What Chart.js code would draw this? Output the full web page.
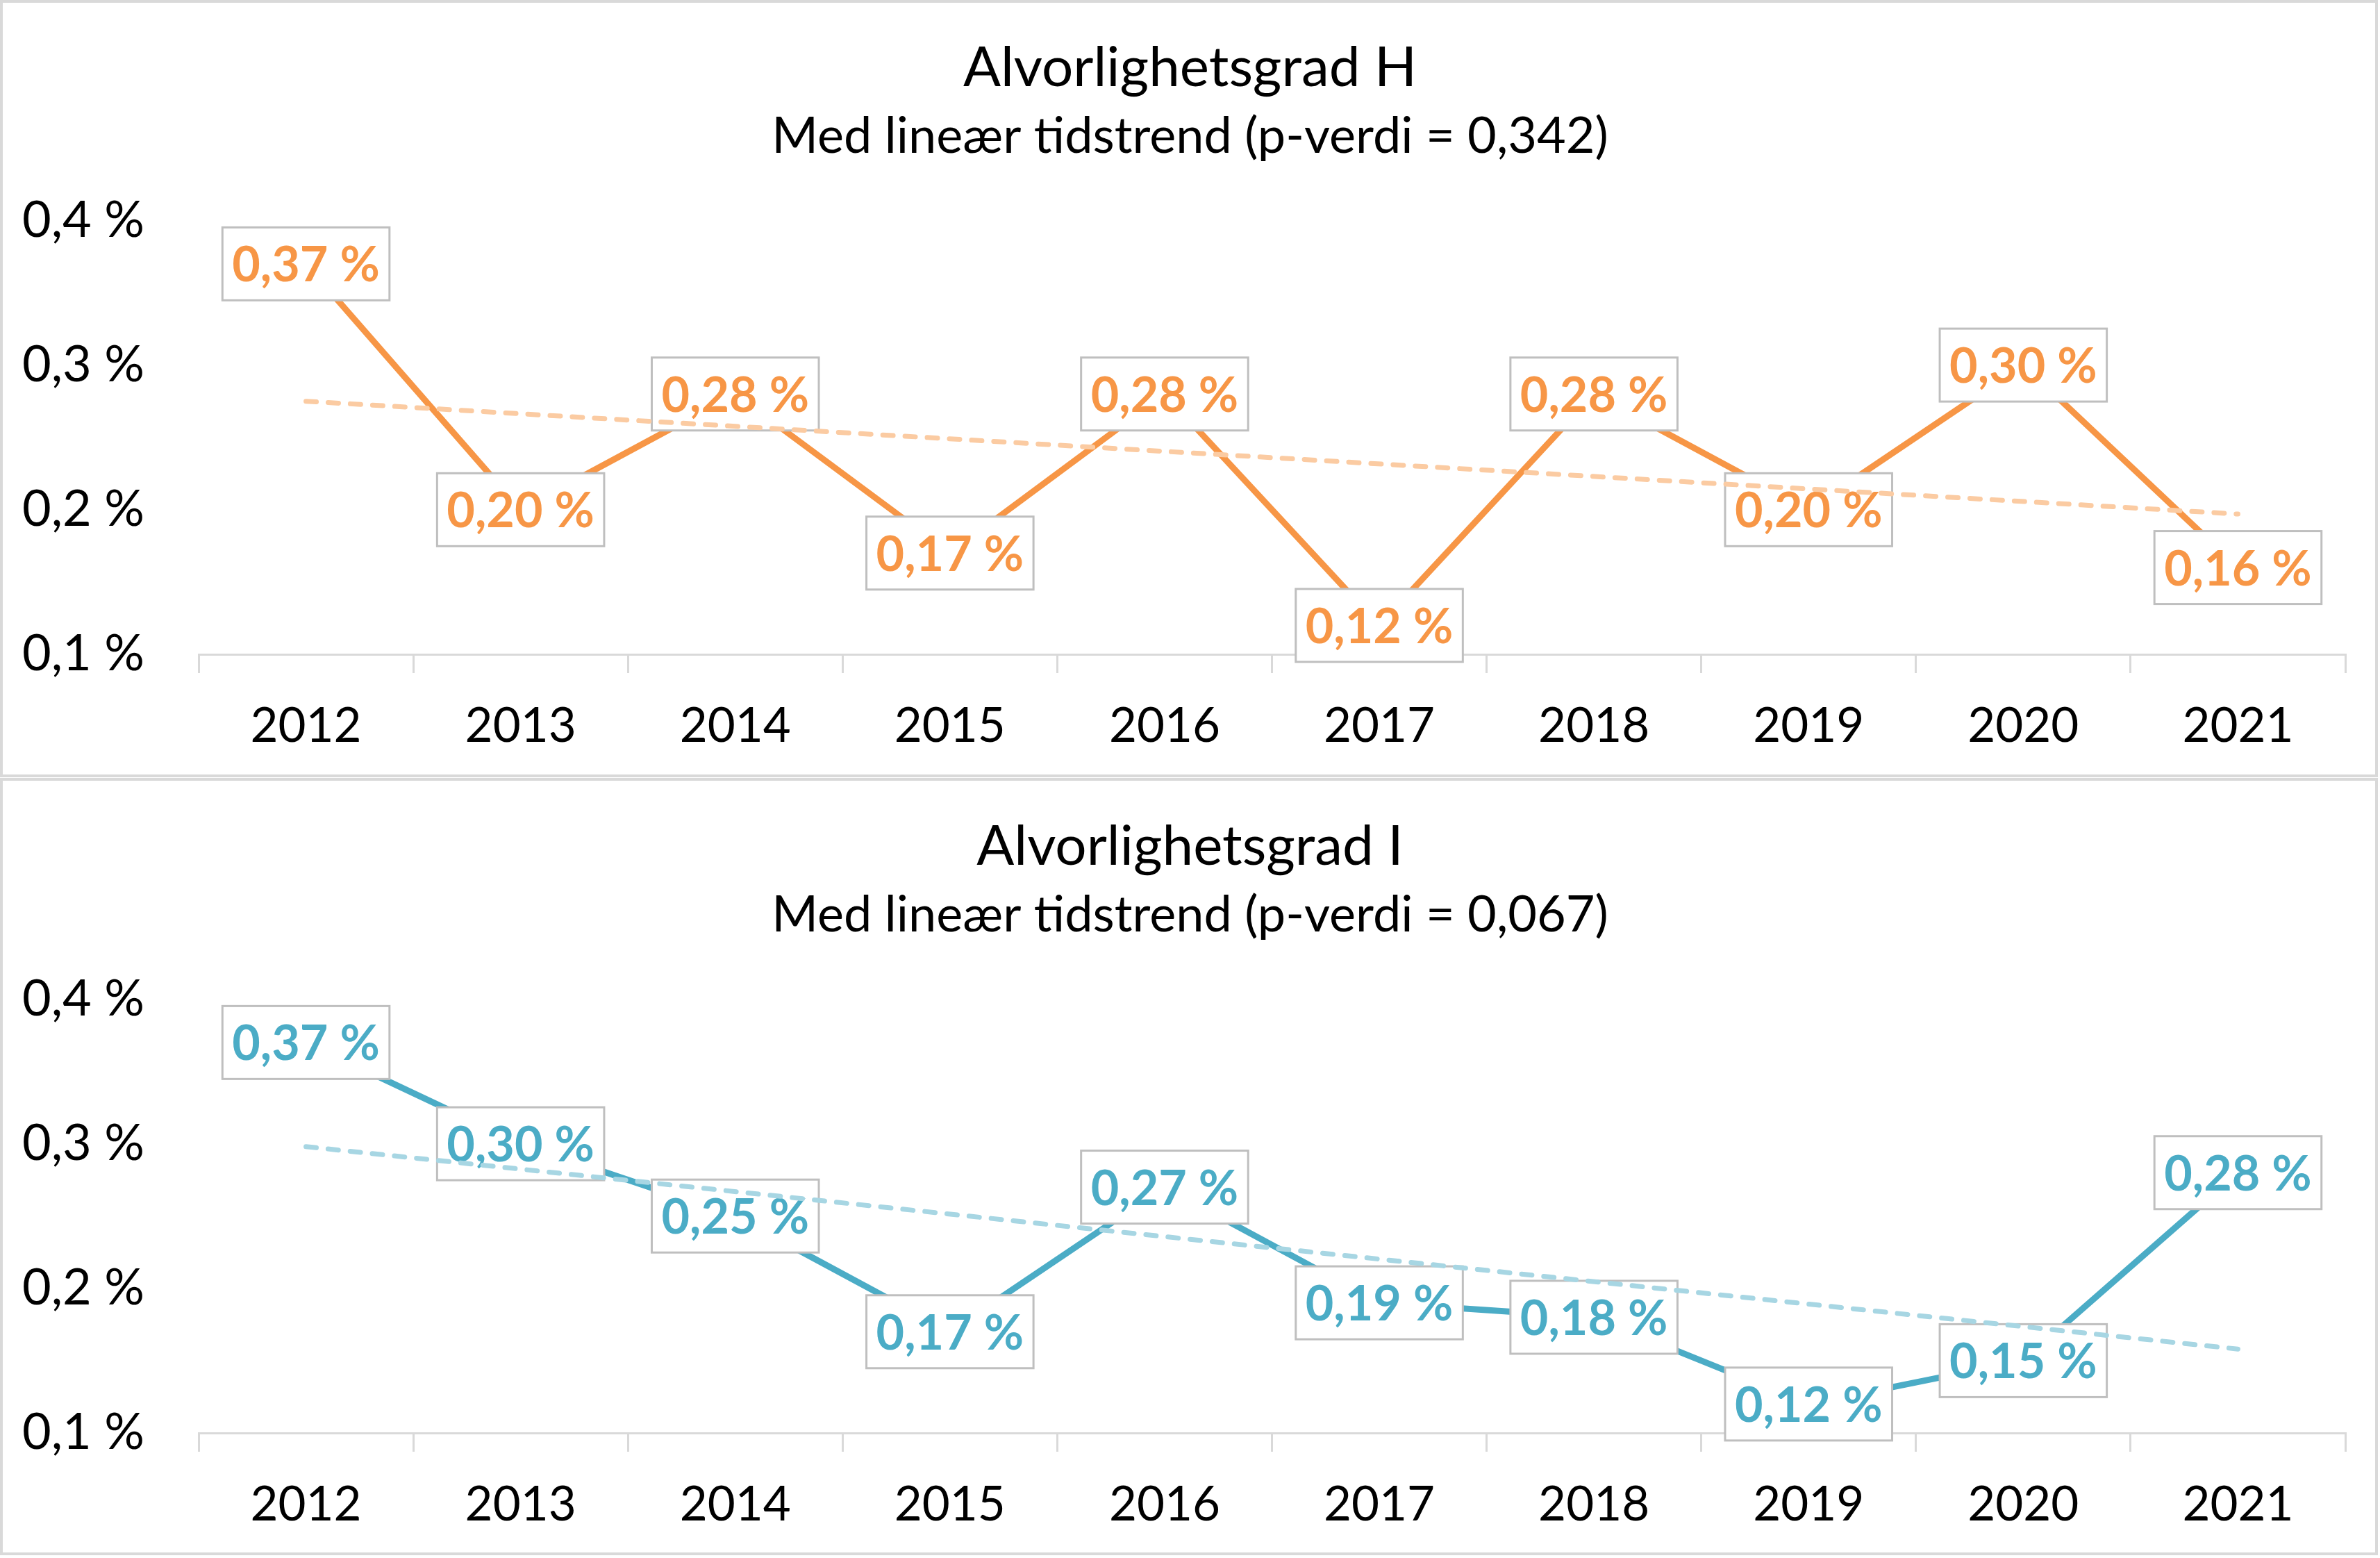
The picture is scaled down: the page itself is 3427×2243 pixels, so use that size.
<!DOCTYPE html>
<html>
<head>
<meta charset="utf-8">
<script src="https://cdn.jsdelivr.net/npm/chart.js@4.4.1/dist/chart.umd.min.js"></script>
<style>
    body { margin: 0; background: #fff; width: 3427px; height: 2243px; position: relative; overflow: hidden; }
    .panel { position: absolute; left: 0; width: 3424px; height: 1119px; box-sizing: border-box; border: 4px solid #d9d9d9; }
    .holder { position: absolute; left: 0; width: 3427px; height: 1120px; }
</style>
</head>
<body>
<div class="panel" style="top:0"></div>
<div class="panel" style="top:1120px"></div>
<div class="holder" style="top:0"><canvas id="chartH"></canvas></div>
<div class="holder" style="top:1121px"><canvas id="chartI"></canvas></div>
<script>
const years = ['2012', '2013', '2014', '2015', '2016', '2017', '2018', '2019', '2020', '2021'];
const severityH = [0.37, 0.20, 0.28, 0.17, 0.28, 0.12, 0.28, 0.20, 0.30, 0.16];
const severityI = [0.37, 0.30, 0.25, 0.17, 0.27, 0.19, 0.18, 0.12, 0.15, 0.28];
// trend line end points (2012 and 2021)
const trendH = [0.275, 0.197];
const trendI = [0.298, 0.158];
const yMin = 0.1, yMax = 0.4, yStep = 0.1;

const fontFamily = 'Lato, "Open Sans", sans-serif';

function pct(v, digits) {
    return v.toFixed(digits).replace('.', ',') + ' %';
}

// boxed value labels centred on each point, like Excel's data callouts
const labelBoxes = {
    id: 'labelBoxes',
    afterDatasetDraw(chart, args) {
        if (args.index !== 0) return;
        const ds = chart.data.datasets[0];
        const ctx = chart.ctx;
        ctx.save();
        ctx.font = `bold 70px ${fontFamily}`;
        ctx.textAlign = 'center';
        ctx.textBaseline = 'middle';
        args.meta.data.forEach((pt, i) => {
            const text = pct(ds.data[i], 2);
            const w = ctx.measureText(text).width + 28;
            const h = 105;
            ctx.fillStyle = '#ffffff';
            ctx.fillRect(pt.x - w / 2, pt.y - h / 2, w, h);
            ctx.strokeStyle = '#bfbfbf';
            ctx.lineWidth = 3;
            ctx.strokeRect(pt.x - w / 2, pt.y - h / 2, w, h);
            ctx.fillStyle = ds.borderColor;
            ctx.fillText(text, pt.x, pt.y + 3);
        });
        ctx.restore();
    }
};

function makeChart(id, title, subtitle, values, trend, color, trendColor) {
    const ctx = document.getElementById(id).getContext('2d');
    return new Chart(ctx, {
        type: 'line',
        data: {
            labels: years,
            datasets: [{
                data: values,
                borderColor: color,
                borderWidth: 9,
                pointRadius: 0,
                tension: 0,
                order: 1
            }, {
                data: [{ x: years[0], y: trend[0] }, { x: years[years.length - 1], y: trend[1] }],
                borderColor: trendColor,
                borderWidth: 7,
                borderDash: [15, 17],
                borderCapStyle: 'round',
                pointRadius: 0,
                order: 0
            }]
        },
        plugins: [labelBoxes],
        options: {
            responsive: true,
            maintainAspectRatio: false,
            animation: false,
            devicePixelRatio: 1,
            layout: { padding: { top: 0, left: 0, right: 0, bottom: 0 } },
            plugins: {
                legend: { display: false },
                tooltip: { enabled: false },
                title: {
                    display: true,
                    text: title,
                    color: '#000',
                    font: { family: fontFamily, size: 80, weight: 'normal', lineHeight: 1.2 },
                    padding: { top: 50, bottom: 0 }
                },
                subtitle: {
                    display: true,
                    text: subtitle,
                    color: '#000',
                    font: { family: fontFamily, size: 72, weight: 'normal', lineHeight: 1.2 },
                    padding: { top: 8, bottom: 77 }
                }
            },
            scales: {
                x: {
                    offset: true,
                    grid: {
                        offset: true,
                        drawOnChartArea: false,
                        drawTicks: true,
                        tickLength: 27,
                        color: '#d9d9d9',
                        lineWidth: 3
                    },
                    border: { display: true, color: '#d9d9d9', width: 3 },
                    ticks: {
                        color: '#000',
                        padding: 35,
                        maxRotation: 0,
                        font: { family: fontFamily, size: 69 }
                    },
                    afterFit: (scale) => { scale.height = 178; }
                },
                y: {
                    min: yMin,
                    max: yMax,
                    grid: { display: false, drawTicks: false },
                    border: { display: false },
                    ticks: {
                        stepSize: yStep,
                        color: '#000',
                        padding: 78,
                        font: { family: fontFamily, size: 72 },
                        callback: (v) => pct(v, 1)
                    },
                    afterFit: (scale) => { scale.width = 286; }
                },
                // empty right-hand axis that keeps the plot off the right edge
                pad: {
                    position: 'right',
                    display: true,
                    grid: { display: false, drawTicks: false },
                    border: { display: false },
                    ticks: { display: false },
                    afterFit: (scale) => { scale.width = 50; }
                }
            }
        }
    });
}

makeChart('chartH', 'Alvorlighetsgrad H', 'Med lineær tidstrend (p-verdi = 0,342)',
    severityH, trendH, '#F79646', '#FBCBA2');
makeChart('chartI', 'Alvorlighetsgrad I', 'Med lineær tidstrend (p-verdi = 0,067)',
    severityI, trendI, '#4BACC6', '#A7D6E3');
</script>
</body>
</html>
